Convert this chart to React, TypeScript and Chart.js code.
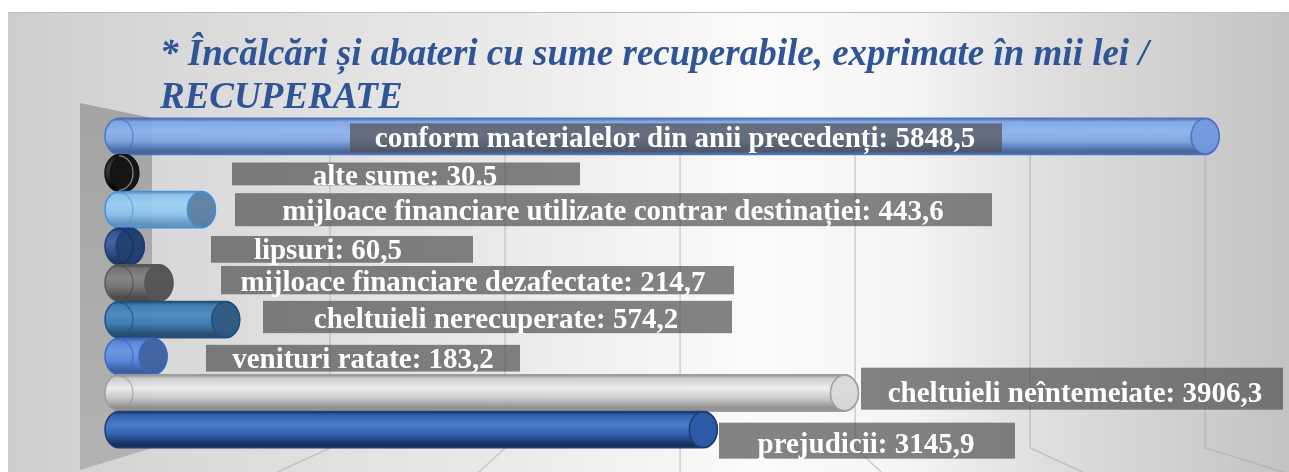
import React, { useEffect, useRef } from "react";
import { Chart, registerables } from "chart.js";

Chart.register(...registerables);

const CATEGORIES = [
  "conform materialelor din anii precedenți",
  "alte sume",
  "mijloace financiare utilizate contrar destinației",
  "lipsuri",
  "mijloace financiare dezafectate",
  "cheltuieli nerecuperate",
  "venituri ratate",
  "cheltuieli neîntemeiate",
  "prejudicii",
];
const VALUES = [5848.5, 30.5, 443.6, 60.5, 214.7, 574.2, 183.2, 3906.3, 3145.9];
const VALUE_LABELS = ["5848,5", "30.5", "443,6", "60,5", "214,7", "574,2", "183,2", "3906,3", "3145,9"];
const TITLE_LINES = ["* Încălcări și abateri cu sume recuperabile, exprimate în mii lei /", "RECUPERATE"];
const GRID_VALUES = [1000, 2000, 3000, 4000, 5000, 6000];

// styles (kept apart from data)
const BAR_STYLES = [
  { base: "#7ea5e6", light: "#8db2ee", dark: "#3f5f9c", end: "#7499dc", border: "#4472c4", rim: "rgba(68,114,196,0.8)", alpha: 0.92 },
  { base: "#262626", light: "#3a3a3a", dark: "#050505", end: "#151515", border: "#111111", rim: "rgba(150,150,150,0.9)", alpha: 1 },
  { base: "#8cc3ef", light: "#9ed0f8", dark: "#5b8fc0", end: "#5d7e9c", border: "#3b8ee2", rim: "rgba(59,142,226,0.6)", alpha: 0.92 },
  { base: "#2c4f8f", light: "#3a5fa3", dark: "#17305e", end: "#21406f", border: "#1d3a70", rim: "rgba(20,40,90,0.8)", alpha: 0.95 },
  { base: "#707070", light: "#848484", dark: "#474747", end: "#545454", border: "#555555", rim: "rgba(70,70,70,0.7)", alpha: 0.95 },
  { base: "#3a79af", light: "#4a89c0", dark: "#1f466b", end: "#2f5a82", border: "#1f4e79", rim: "rgba(31,78,121,0.8)", alpha: 0.95 },
  { base: "#5585db", light: "#6a96e4", dark: "#34599f", end: "#40629f", border: "#3a66c0", rim: "rgba(58,102,192,0.8)", alpha: 0.95 },
  { base: "#cdcdcd", light: "#ededed", dark: "#8e8e8e", end: "#dadada", border: "#9c9c9c", rim: "rgba(150,150,150,0.7)", alpha: 0.95 },
  { base: "#3262b2", light: "#4a7ac9", dark: "#15305e", end: "#2d5aa6", border: "#1d3c74", rim: "rgba(0,0,0,0)", alpha: 1 },
];

// label boxes: x relative to chartArea.left, y relative to bar centre
const LABEL_LAYOUT = [
  { x1: 231, x2: 883, y1: -13, y2: 16, tx: 556, bl: 11 },
  { x1: 113, x2: 461, y1: -10.5, y2: 12.3, tx: 286, bl: 12 },
  { x1: 116, x2: 873, y1: -16.5, y2: 16.5, tx: 494, bl: 10.5 },
  { x1: 92, x2: 354, y1: -10.3, y2: 16.4, tx: 209, bl: 12.7 },
  { x1: 102, x2: 615, y1: -17, y2: 11.3, tx: 354, bl: 7.7 },
  { x1: 144, x2: 613, y1: -18.8, y2: 13.5, tx: 377, bl: 8.5 },
  { x1: 87, x2: 401, y1: -11.5, y2: 15.2, tx: 244, bl: 11.5 },
  { x1: 742, x2: 1164, y1: -25.3, y2: 16.7, tx: 956, bl: 8.7 },
  { x1: 600, x2: 896, y1: -7, y2: 29, tx: 747, bl: 23 },
];

const CAP_RX = 14;
const BACK_SHIFT = 36;
const BACK_SCALE = 0.9425;

function drawCylinder(ctx: CanvasRenderingContext2D, x0: number, x1: number, yc: number, h: number, s: any) {
  const rx = CAP_RX;
  const ry = h / 2;
  const top = yc - ry;
  const bot = yc + ry;
  const g = ctx.createLinearGradient(0, top, 0, bot);
  g.addColorStop(0, s.dark);
  g.addColorStop(0.1, s.base);
  g.addColorStop(0.36, s.light);
  g.addColorStop(0.62, s.base);
  g.addColorStop(0.9, s.dark);
  g.addColorStop(1, s.dark);
  ctx.save();
  ctx.globalAlpha = s.alpha;
  ctx.beginPath();
  ctx.moveTo(x0, top);
  ctx.lineTo(x1, top);
  ctx.ellipse(x1, yc, rx, ry, 0, -Math.PI / 2, Math.PI / 2);
  ctx.lineTo(x0, bot);
  ctx.ellipse(x0, yc, rx, ry, 0, Math.PI / 2, (3 * Math.PI) / 2);
  ctx.closePath();
  ctx.fillStyle = g;
  ctx.fill();
  ctx.lineWidth = 1.5;
  ctx.strokeStyle = s.border;
  ctx.stroke();
  // end face
  ctx.beginPath();
  ctx.ellipse(x1, yc, rx, ry - 0.5, 0, 0, Math.PI * 2);
  ctx.fillStyle = s.end;
  ctx.fill();
  ctx.lineWidth = 1.5;
  ctx.strokeStyle = s.border;
  ctx.stroke();
  // left rim (seen through)
  ctx.beginPath();
  ctx.ellipse(x0, yc, rx, ry - 1, 0, -Math.PI / 2, Math.PI / 2);
  ctx.lineWidth = 1.2;
  ctx.strokeStyle = s.rim;
  ctx.stroke();
  ctx.restore();
}

const scenePlugin = {
  id: "scene",
  beforeDraw(chart: any) {
    const { ctx, width, height, chartArea } = chart;
    const xs = chart.scales.x;
    const cl = chartArea.left;
    const ct = chartArea.top;
    const cb = chartArea.bottom;
    ctx.save();
    ctx.fillStyle = "#ffffff";
    ctx.fillRect(0, 0, width, height);
    const bg = ctx.createLinearGradient(0, 0, width, 0);
    bg.addColorStop(0, "#cdcdcd");
    bg.addColorStop(0.12, "#d8d8d8");
    bg.addColorStop(0.4, "#ebebeb");
    bg.addColorStop(0.58, "#fbfbfb");
    bg.addColorStop(0.7, "#f5f5f5");
    bg.addColorStop(0.8, "#e0e0e0");
    bg.addColorStop(1, "#c3c3c3");
    ctx.fillStyle = bg;
    ctx.fillRect(0, 4, width, height - 4);
    ctx.strokeStyle = "#bdbdbd";
    ctx.lineWidth = 1;
    ctx.beginPath();
    ctx.moveTo(0, 4.5);
    ctx.lineTo(width, 4.5);
    ctx.stroke();

    // side wall
    const wallX = cl + BACK_SHIFT - 3;
    const wg = ctx.createLinearGradient(0, ct - 15, 0, cb + 22);
    wg.addColorStop(0, "#a4a4a4");
    wg.addColorStop(1, "#b2b2b2");
    ctx.fillStyle = wg;
    ctx.beginPath();
    ctx.moveTo(cl - 39, ct - 15);
    ctx.lineTo(wallX, ct);
    ctx.lineTo(wallX, cb);
    ctx.lineTo(cl - 39, cb + 22);
    ctx.closePath();
    ctx.fill();

    // back wall gridlines and floor lines
    const vp = xs.getPixelForValue(3000 * BACK_SCALE) + BACK_SHIFT;
    ctx.strokeStyle = "rgba(165,165,165,0.5)";
    ctx.lineWidth = 1.5;
    for (const v of GRID_VALUES) {
      const bx = xs.getPixelForValue(v * BACK_SCALE) + BACK_SHIFT;
      ctx.beginPath();
      ctx.moveTo(bx, ct);
      ctx.lineTo(bx, cb);
      const dy = 80;
      const k = 1 + (0.143 * dy) / 23;
      ctx.lineTo(vp + (bx - vp) * k, cb + dy);
      ctx.stroke();
    }
    ctx.restore();
  },
  afterDatasetsDraw(chart: any) {
    const { ctx, chartArea } = chart;
    const meta = chart.getDatasetMeta(0);
    meta.data.forEach((bar: any, i: number) => {
      const p = bar.getProps(["x", "y", "base", "height"], true);
      drawCylinder(ctx, p.base, p.x, p.y, p.height, BAR_STYLES[i]);
    });
    ctx.save();
    ctx.font = "bold 29px 'Liberation Serif', 'Times New Roman', serif";
    ctx.textAlign = "center";
    ctx.textBaseline = "alphabetic";
    meta.data.forEach((bar: any, i: number) => {
      const L = LABEL_LAYOUT[i];
      const cy = bar.y;
      const l = chartArea.left;
      ctx.fillStyle = "rgba(80,80,80,0.7)";
      ctx.fillRect(l + L.x1, cy + L.y1, L.x2 - L.x1, L.y2 - L.y1);
      ctx.fillStyle = "#ffffff";
      ctx.fillText(`${CATEGORIES[i]}: ${VALUE_LABELS[i]}`, l + L.tx, cy + L.bl);
    });
    ctx.restore();
  },
  afterDraw(chart: any) {
    const { ctx, chartArea } = chart;
    ctx.save();
    ctx.font = "italic bold 37px 'Liberation Serif', 'Times New Roman', serif";
    ctx.fillStyle = "#2f5597";
    ctx.textAlign = "left";
    ctx.textBaseline = "alphabetic";
    ctx.fillText(TITLE_LINES[0], chartArea.left + 41, chartArea.top - 53);
    ctx.fillText(TITLE_LINES[1], chartArea.left + 41, chartArea.top - 10);
    ctx.restore();
  },
};

export default function App() {
  const ref = useRef<HTMLCanvasElement | null>(null);
  useEffect(() => {
    if (!ref.current) return;
    const chart = new Chart(ref.current, {
      type: "bar",
      data: {
        labels: CATEGORIES,
        datasets: [
          {
            data: VALUES,
            backgroundColor: "rgba(0,0,0,0)",
            borderWidth: 0,
            barPercentage: 1,
            categoryPercentage: 0.99,
          },
        ],
      },
      options: {
        indexAxis: "y",
        responsive: false,
        animation: false,
        events: [],
        layout: { padding: { left: 111, right: 0, top: 110, bottom: 24 } },
        scales: {
          x: { display: false, min: 0, max: 6300 },
          y: { display: false },
        },
        plugins: {
          legend: { display: false },
          tooltip: { enabled: false },
          title: { display: false },
        },
      },
      plugins: [scenePlugin],
    });
    return () => chart.destroy();
  }, []);
  return (
    <div style={{ position: "absolute", left: 8, top: 8, width: 1281, height: 464 }}>
      <canvas ref={ref} width={1281} height={464} style={{ display: "block" }} />
    </div>
  );
}
